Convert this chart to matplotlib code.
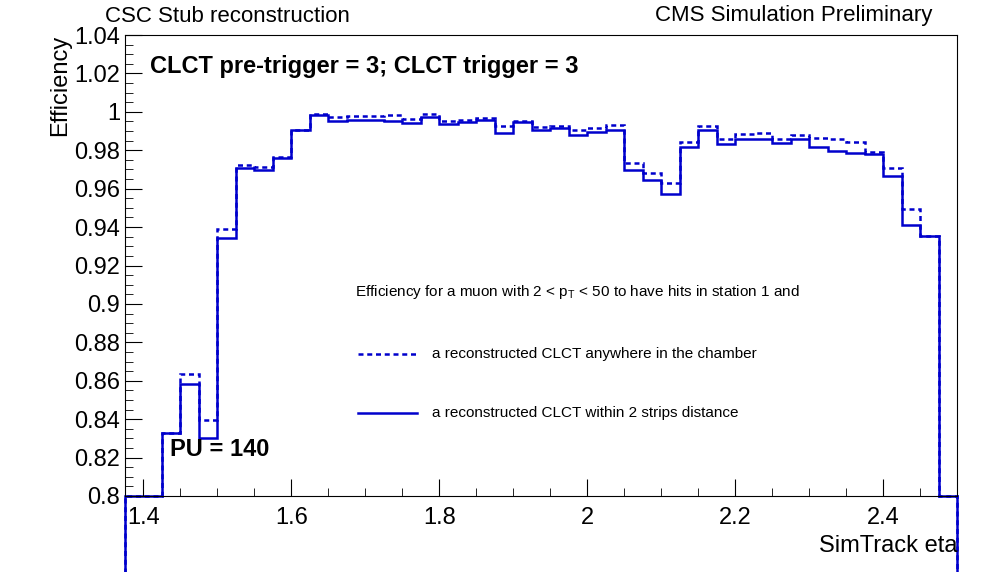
import numpy as np
import matplotlib
matplotlib.use('Agg')
from matplotlib import pyplot as plt
from matplotlib.ticker import MultipleLocator, FuncFormatter

plt.rcParams['font.family'] = ['Liberation Sans', 'DejaVu Sans']

edges = np.round(np.arange(1.375, 2.5001, 0.025), 3)

# reconstructed CLCT within 2 strips distance
eff_2strips = [0, 0, 0.833, 0.8585, 0.8304, 0.9345, 0.9710, 0.9698, 0.9762, 0.9903,
               0.9984, 0.9950, 0.9955, 0.9955, 0.9950, 0.9941, 0.9972, 0.9936, 0.9945, 0.9958,
               0.9892, 0.9946, 0.9908, 0.9918, 0.9877, 0.9897, 0.9903, 0.9698, 0.9644, 0.9574,
               0.9818, 0.9903, 0.9835, 0.9861, 0.9856, 0.9840, 0.9861, 0.9819, 0.9798, 0.9788,
               0.9780, 0.9668, 0.9413, 0.9356, 0]
# reconstructed CLCT anywhere in the chamber
eff_any = [0, 0, 0.833, 0.8634, 0.8396, 0.9392, 0.9724, 0.9715, 0.9767, 0.9908,
           0.9990, 0.9972, 0.9976, 0.9979, 0.9986, 0.9963, 0.9990, 0.9950, 0.9958, 0.9970,
           0.9928, 0.9953, 0.9923, 0.9928, 0.9903, 0.9918, 0.9930, 0.9736, 0.9684, 0.9632,
           0.9844, 0.9925, 0.9861, 0.9883, 0.9892, 0.9861, 0.9877, 0.9866, 0.9861, 0.9845,
           0.9793, 0.9710, 0.9496, 0.9356, 0]

ymin, ymax = 0.8, 1.04

fig = plt.figure(figsize=(9.96, 5.72), dpi=100)
ax = fig.add_axes([125/996, 1 - 496/572, 832/996, 461/572])

col = '#0000cc'
# ROOT draws empty bins along the frame bottom
ax.stairs(np.maximum(eff_any, ymin), edges, color=col, lw=1.8, ls=(0, (2, 1.5)), clip_on=False)
ax.stairs(np.maximum(eff_2strips, ymin), edges, color=col, lw=1.8, clip_on=False)

ax.set_xlim(1.375, 2.5)
ax.set_ylim(ymin, ymax)
ax.xaxis.set_major_locator(MultipleLocator(0.2))
ax.xaxis.set_minor_locator(MultipleLocator(0.05))
ax.yaxis.set_major_locator(MultipleLocator(0.02))
ax.yaxis.set_minor_locator(MultipleLocator(0.005))
fmt = FuncFormatter(lambda v, p: '%g' % round(v, 3))
ax.xaxis.set_major_formatter(fmt)
ax.yaxis.set_major_formatter(fmt)
ax.tick_params(which='both', direction='in', labelsize=17)
ax.tick_params(which='major', length=12)
ax.tick_params(which='minor', length=6)
ax.tick_params(axis='x', pad=8)

ax.set_xlabel('SimTrack eta', fontsize=17, loc='right', labelpad=4)
ax.set_ylabel('Efficiency', fontsize=17, loc='top', labelpad=2)

fig.text(105/996, 1 - 16/572, 'CSC Stub reconstruction', fontsize=16, va='center')
fig.text(932/996, 1 - 16/572, 'CMS Simulation Preliminary', fontsize=16, va='center', ha='right')
fig.text(150/996, 1 - 66/572, 'CLCT pre-trigger = 3; CLCT trigger = 3', fontsize=17,
         fontweight='bold', va='center')
fig.text(170/996, 1 - 449/572, 'PU = 140', fontsize=17, fontweight='bold', va='center')

fig.text(355/996, 1 - 292/572, 'Efficiency for a muon with 2 < p$_{\\mathregular{T}}$ < 50 to have hits in station 1 and',
         fontsize=11, va='center')
fig.add_artist(plt.Line2D([358/996, 417/996], [1 - 354/572] * 2, color=col, lw=1.8, ls=(0, (2, 1.5))))
fig.text(432/996, 1 - 354/572, 'a reconstructed CLCT anywhere in the chamber', fontsize=11, va='center')
fig.add_artist(plt.Line2D([358/996, 417/996], [1 - 413/572] * 2, color=col, lw=1.8))
fig.text(432/996, 1 - 413/572, 'a reconstructed CLCT within 2 strips distance', fontsize=11, va='center')

fig.savefig('out.png', dpi=100)
